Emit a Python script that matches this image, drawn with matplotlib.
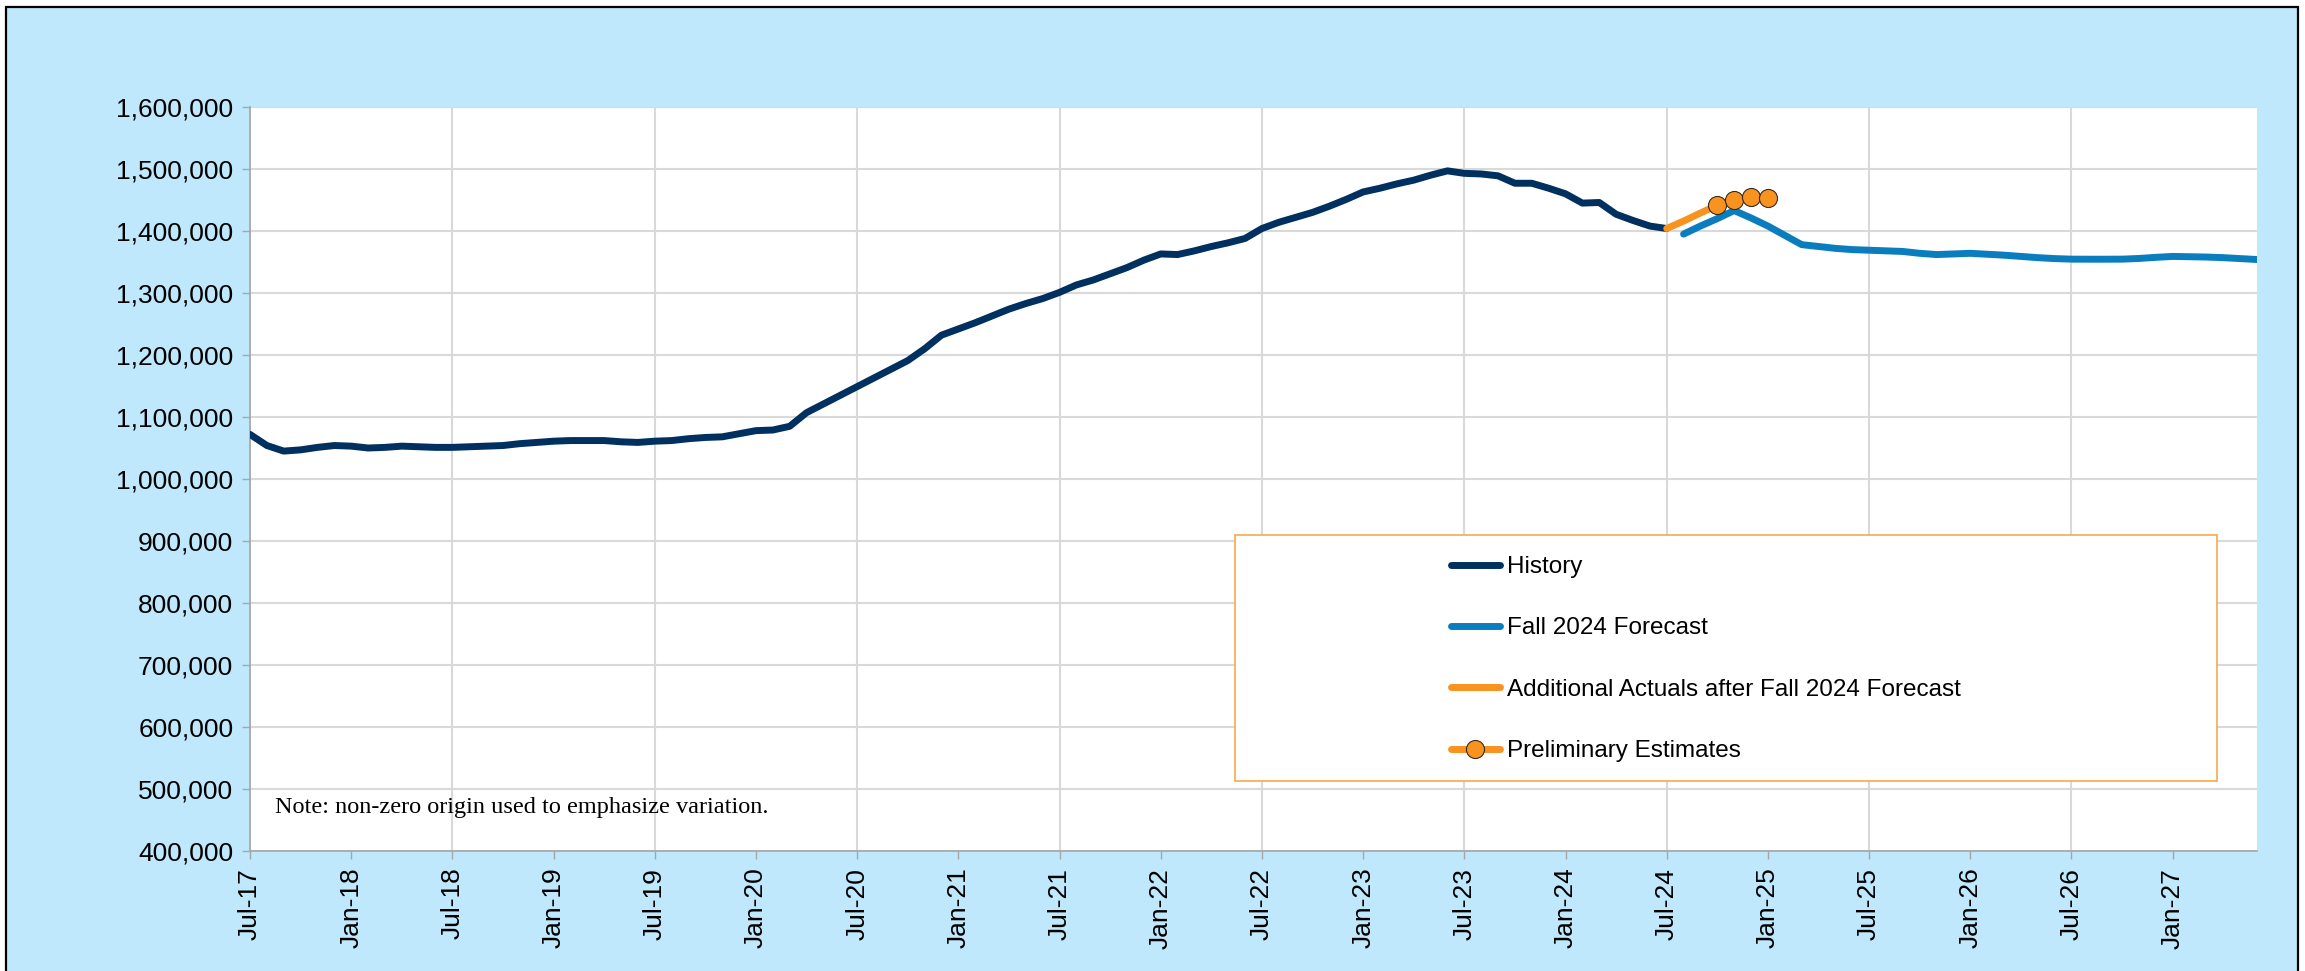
import numpy as np
import pandas as pd
import matplotlib.pyplot as plt
from matplotlib.patches import Rectangle
from matplotlib.ticker import FuncFormatter

# monthly categories Jul-17 .. Jun-27
months = pd.date_range('2017-07-01', periods=120, freq='MS')
tick_labels = [m.strftime('%b-%y') for m in months]

history = [1072000, 1054000, 1045000, 1047000, 1051000, 1054000, 1053000, 1050000,
           1051000, 1053000, 1052000, 1051000, 1051000, 1052000, 1053000, 1054000,
           1057000, 1059000, 1061000, 1062000, 1062000, 1062000, 1060000, 1059000,
           1061000, 1062000, 1065000, 1067000, 1068000, 1073000, 1078000, 1079000,
           1085000, 1107000, 1121000, 1135000, 1149000, 1163000, 1177000, 1191000,
           1210000, 1232000, 1242000, 1252000, 1263000, 1274000, 1283000, 1291000,
           1301000, 1313000, 1321000, 1331000, 1341000, 1353000, 1363000, 1362000,
           1368000, 1375000, 1381000, 1388000, 1404000, 1414000, 1422000, 1430000,
           1440000, 1451000, 1463000, 1469000, 1476000, 1482000, 1490000, 1497000,
           1493000, 1492000, 1489000, 1477000, 1477000, 1469000, 1460000, 1445000,
           1446000, 1427000, 1417000, 1408000, 1404000]
history_start = 0

forecast = [1395000, 1408000, 1420000, 1433000, 1421000, 1408000, 1393000, 1378000,
            1375000, 1372000, 1370000, 1369000, 1368000, 1367000, 1364000, 1362000,
            1363000, 1364000, 1362500, 1361000, 1359000, 1357000, 1355500, 1354600,
            1354500, 1354500, 1354600, 1355700, 1357500, 1359000, 1358500, 1358000,
            1357000, 1355500, 1354000]
forecast_start = 85

additional = [1404000, 1416000, 1429000, 1441500]
additional_start = 84

prelim = [1441500, 1449500, 1455500, 1452500]
prelim_start = 87

note = "Note: non-zero origin used to emphasize variation."

W, H = 2305, 971
fig = plt.figure(figsize=(W / 100, H / 100), dpi=100)
fig.patch.set_facecolor('white')
fig.add_artist(Rectangle((6 / W, -0.02), (2298 - 6) / W, 1.02 - 7 / H,
                         transform=fig.transFigure, facecolor='#BFE8FC',
                         edgecolor='black', linewidth=1.6, zorder=-10))

plt.rcParams['font.family'] = ['Liberation Sans', 'DejaVu Sans']

ax = fig.add_axes([250 / W, 1 - 851 / H, (2257 - 250) / W, (851 - 107) / H])
ax.set_facecolor('white')

x_hist = np.arange(history_start, history_start + len(history))
x_fc = np.arange(forecast_start, forecast_start + len(forecast))
x_add = np.arange(additional_start, additional_start + len(additional))
x_pre = np.arange(prelim_start, prelim_start + len(prelim))

kw = dict(solid_joinstyle='round', solid_capstyle='round')
l1, = ax.plot(x_hist, history, color='#00305F', lw=5, zorder=3, label='History', **kw)
l2, = ax.plot(x_fc, forecast, color='#0A7DBE', lw=5, zorder=3, label='Fall 2024 Forecast', **kw)
l3, = ax.plot(x_add, additional, color='#F7931E', lw=5, zorder=4,
              label='Additional Actuals after Fall 2024 Forecast', **kw)
l4, = ax.plot(x_pre, prelim, color='#F7931E', lw=5, zorder=5, marker='o', markersize=13,
              markerfacecolor='#F7931E', markeredgecolor='#3A2A1A', markeredgewidth=0.8,
              label='Preliminary Estimates', **kw)

ax.set_xlim(0, len(months) - 1)
ax.set_ylim(400000, 1600000)
ax.set_yticks(np.arange(400000, 1600001, 100000))
ax.yaxis.set_major_formatter(FuncFormatter(lambda v, p: f'{int(v):,}'))

jul_idx = [i for i, m in enumerate(months) if m.month == 7]
jan_idx = [i for i, m in enumerate(months) if m.month == 1]
ax.set_xticks(jul_idx)
ax.set_xticklabels([tick_labels[i] for i in jul_idx], rotation=90)
ax.set_xticks(jan_idx, minor=True)
ax.set_xticklabels([tick_labels[i] for i in jan_idx], minor=True, rotation=90)

for which in ('major', 'minor'):
    ax.tick_params(axis='x', which=which, length=6, width=1, color='#A6A6A6',
                   labelsize=19, pad=6)
ax.tick_params(axis='y', length=6, width=1, color='#A6A6A6', labelsize=19, pad=6)

ax.grid(True, which='major', axis='both', color='#D9D9D9', lw=1.5, zorder=0)
ax.set_axisbelow(True)
for s in ('top', 'right'):
    ax.spines[s].set_visible(False)
for s in ('left', 'bottom'):
    ax.spines[s].set_color('#A6A6A6')
    ax.spines[s].set_linewidth(1.2)

ax.text(25 / 2007, 0.059, note, transform=ax.transAxes, fontsize=17.5,
        family='Liberation Serif', va='center', ha='left')

# legend box
ax.add_artist(Rectangle((1235 / W, 1 - 781 / H), (2217 - 1235) / W, (781 - 535) / H,
                        transform=fig.transFigure, facecolor='white', edgecolor='#F7A94B',
                        linewidth=1.2, zorder=6))
leg = ax.legend(handles=[l1, l2, l3, l4], loc='upper left',
                bbox_to_anchor=(1451 / W, 1 - 556 / H), bbox_transform=fig.transFigure,
                frameon=False, borderpad=0, borderaxespad=0, handlelength=2.0,
                handletextpad=0.3, labelspacing=1.62, fontsize=17.5, numpoints=1)
leg.set_zorder(7)

fig.savefig('out.png', dpi=100)
